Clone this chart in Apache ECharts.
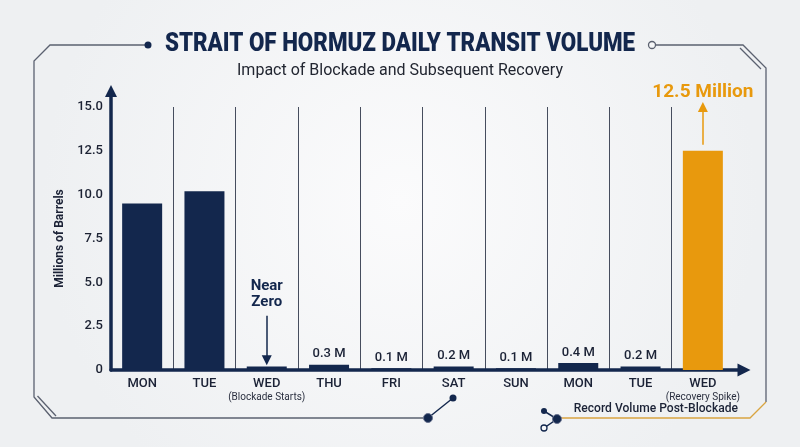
<!DOCTYPE html>
<html>
<head>
<meta charset="utf-8">
<script src="https://cdn.jsdelivr.net/npm/echarts@6/dist/echarts.min.js"></script>
<style>
  html, body { margin: 0; padding: 0; }
  #chart { width: 800px; height: 447px; }
</style>
</head>
<body>
<div id="chart"></div>
<script>
// daily transit volume, millions of barrels
const days = ['MON', 'TUE', 'WED', 'THU', 'FRI', 'SAT', 'SUN', 'MON', 'TUE', 'WED'];
const dayNotes = ['', '', '(Blockade Starts)', '', '', '', '', '', '', '(Recovery Spike)'];
const volumes = [9.5, 10.2, 0.2, 0.3, 0.1, 0.2, 0.1, 0.4, 0.2, 12.5];
const showValueLabel = [false, false, false, true, true, true, true, true, true, false];

// annotation arrows, in data space [category index, value]
const nearZeroArrow = [[2, 3.1], [2, 0.55]];
const spikeArrow = [[9, 12.85], [9, 15.0]];

const NAVY = '#13274d';
const ORANGE = '#e8990d';
const GRAY = '#5b6170';
const recoveryIndex = volumes.length - 1;

const chart = echarts.init(document.getElementById('chart'));

const frameLine = { stroke: GRAY, lineWidth: 1.3, fill: null };

chart.setOption({
    animation: false,
    backgroundColor: {
        type: 'radial', x: 0.5, y: 0.45, r: 0.8,
        colorStops: [
            { offset: 0, color: '#fbfbfc' },
            { offset: 1, color: '#eef0f2' }
        ]
    },
    textStyle: { fontFamily: 'Roboto' },
    grid: [
        { left: 111, right: 66, top: 107, bottom: 77 },
        // second grid only carries the arrowed axis lines
        { left: 111, right: 56, top: 91, bottom: 77 }
    ],
    xAxis: [
        {
            type: 'category',
            data: days,
            gridIndex: 0,
            axisLine: { show: false },
            axisTick: { show: false, interval: 0 },
            splitLine: {
                show: true,
                interval: 0,
                showMinLine: false,
                showMaxLine: false,
                lineStyle: { color: '#464d5e', width: 1 }
            },
            axisLabel: {
                interval: 0,
                margin: 7,
                formatter: (v, i) => dayNotes[i] ? `{d|${v}}\n{n|${dayNotes[i]}}` : `{d|${v}}`,
                rich: {
                    d: { fontSize: 13, fontWeight: 500, color: '#1b2236', lineHeight: 14 },
                    n: { fontSize: 10, color: '#2b3040', lineHeight: 12 }
                }
            }
        },
        {
            type: 'value',
            gridIndex: 1,
            min: 0, max: 1,
            axisLine: {
                show: true, onZero: false,
                symbol: ['none', 'triangle'],
                symbolSize: [13, 13],
                lineStyle: { color: NAVY, width: 3.5 }
            },
            axisTick: { show: false },
            axisLabel: { show: false },
            splitLine: { show: false }
        }
    ],
    yAxis: [
        {
            type: 'value',
            gridIndex: 0,
            min: 0, max: 15, interval: 2.5,
            axisLine: { show: false },
            axisTick: { show: false },
            splitLine: { show: false },
            axisLabel: {
                margin: 8,
                fontSize: 13,
                fontWeight: 500,
                color: '#1c2233',
                formatter: v => v === 0 ? '0' : v.toFixed(1)
            },
            name: 'Millions of Barrels',
            nameLocation: 'middle',
            nameGap: 43,
            nameTextStyle: { fontSize: 12, fontWeight: 'bold', color: '#1b2236' }
        },
        {
            type: 'value',
            gridIndex: 1,
            min: 0, max: 1,
            axisLine: {
                show: true, onZero: false,
                symbol: ['none', 'triangle'],
                symbolSize: [12, 12],
                lineStyle: { color: NAVY, width: 3.5 }
            },
            axisTick: { show: false },
            axisLabel: { show: false },
            splitLine: { show: false }
        }
    ],
    series: [
        {
            type: 'bar',
            xAxisIndex: 0,
            yAxisIndex: 0,
            barWidth: 40,
            data: volumes.map((v, i) => ({
                value: v,
                itemStyle: { color: i === recoveryIndex ? ORANGE : NAVY },
                label: { show: showValueLabel[i] }
            })),
            label: {
                position: 'top',
                distance: 4,
                fontSize: 13,
                fontWeight: 500,
                color: '#1b2236',
                formatter: p => p.value + ' M'
            },
            markLine: {
                silent: true,
                symbol: ['none', 'triangle'],
                symbolSize: 10,
                data: [
                    [
                        {
                            coord: nearZeroArrow[0],
                            lineStyle: { color: NAVY, width: 1.5, type: 'solid' },
                            label: {
                                show: true, position: 'start', formatter: 'Near\nZero',
                                fontSize: 15, fontWeight: 'bold', color: NAVY, lineHeight: 16
                            }
                        },
                        { coord: nearZeroArrow[1] }
                    ],
                    [
                        {
                            coord: spikeArrow[0],
                            lineStyle: { color: ORANGE, width: 1.5, type: 'solid' },
                            label: {
                                show: true, position: 'end', formatter: '12.5 Million',
                                fontSize: 19, fontWeight: 'bold', color: ORANGE
                            }
                        },
                        { coord: spikeArrow[1] }
                    ]
                ]
            }
        }
    ],
    graphic: [
        {
            type: 'text', x: 400, y: 44, scaleX: 0.86,
            style: {
                text: 'STRAIT OF HORMUZ DAILY TRANSIT VOLUME',
                font: '900 26px Roboto', fill: NAVY,
                textAlign: 'center', textVerticalAlign: 'middle'
            }
        },
        {
            type: 'text', x: 400, y: 71,
            style: {
                text: 'Impact of Blockade and Subsequent Recovery',
                font: '16px Roboto', fill: '#222631',
                textAlign: 'center', textVerticalAlign: 'middle'
            }
        },
        {
            type: 'text', x: 738, y: 409, scaleX: 0.93,
            style: {
                text: 'Record Volume Post-Blockade',
                font: '500 13px Roboto', fill: '#1b2236',
                textAlign: 'right', textVerticalAlign: 'middle'
            }
        },
        // frame, left side
        { type: 'polyline', shape: { points: [[148, 45], [50, 45], [34, 61], [34, 397], [52, 418], [428, 418]] }, style: frameLine },
        { type: 'polyline', shape: { points: [[37.5, 396], [56, 416]] }, style: frameLine },
        { type: 'circle', shape: { cx: 148, cy: 45, r: 3.5 }, style: { fill: NAVY } },
        // frame, right side
        { type: 'polyline', shape: { points: [[655.5, 45], [743, 45], [766, 68], [766, 402]] }, style: frameLine },
        { type: 'polyline', shape: { points: [[740, 48], [761, 69]] }, style: frameLine },
        { type: 'circle', shape: { cx: 652, cy: 45, r: 3.5 }, style: { fill: '#f6f7f8', stroke: GRAY, lineWidth: 1.3 } },
        { type: 'polyline', shape: { points: [[560, 418], [750, 418], [766, 402]] }, style: { stroke: '#d9a441', lineWidth: 1.3, fill: null } },
        // circuit nodes
        { type: 'line', shape: { x1: 428, y1: 418, x2: 453, y2: 398 }, style: { stroke: NAVY, lineWidth: 1.5 } },
        { type: 'circle', shape: { cx: 428, cy: 418, r: 4.5 }, style: { fill: NAVY, stroke: '#6a7390', lineWidth: 1 } },
        { type: 'circle', shape: { cx: 453, cy: 398, r: 3.5 }, style: { fill: NAVY } },
        { type: 'polyline', shape: { points: [[544, 411], [557, 419], [544, 428]] }, style: { stroke: NAVY, lineWidth: 1.5, fill: null } },
        { type: 'circle', shape: { cx: 544, cy: 411, r: 3 }, style: { fill: NAVY } },
        { type: 'circle', shape: { cx: 557, cy: 419, r: 4.5 }, style: { fill: NAVY, stroke: '#6a7390', lineWidth: 1 } },
        { type: 'circle', shape: { cx: 544, cy: 428, r: 3 }, style: { fill: '#f6f7f8', stroke: NAVY, lineWidth: 1.3 } }
    ]
});

window.addEventListener('resize', chart.resize);
</script>
</body>
</html>
